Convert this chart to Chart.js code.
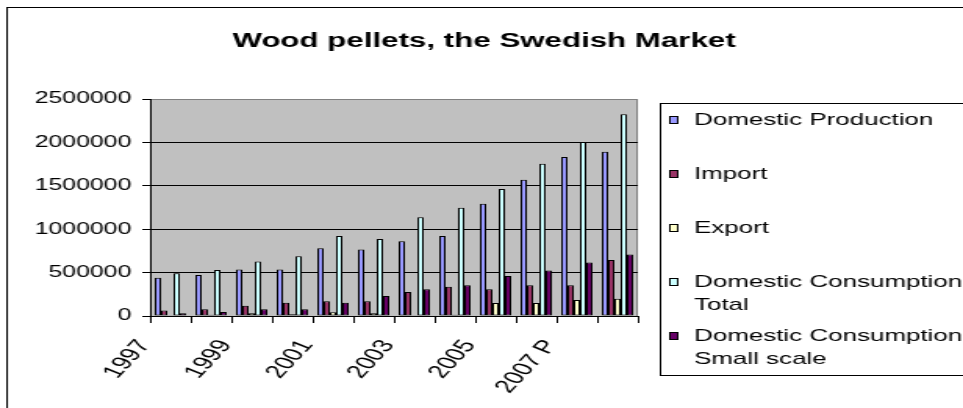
<!DOCTYPE html>
<html>
<head>
<meta charset="utf-8">
<script src="https://cdn.jsdelivr.net/npm/chart.js@4.4.0/dist/chart.umd.min.js"></script>
<style>
  html, body { margin: 0; padding: 0; background: #fff; overflow: hidden; }
  #chartPellets { display: block; }
</style>
</head>
<body>
<canvas id="chartPellets" width="616" height="408" style="width:963px;height:408px"></canvas>
<script>
const chartTitle = 'Wood pellets, the Swedish Market';
const years = ['1997', '1998', '1999', '2000', '2001', '2002', '2003', '2004', '2005', '2006', '2007 P', '2008'];
const tickLabels = ['1997', '', '1999', '', '2001', '', '2003', '', '2005', '', '2007 P', ''];

const domesticProduction = [442000, 473000, 535000, 535000, 781000, 765000, 860000, 923000, 1292000, 1569000, 1831000, 1892000];
const importTonnes = [62000, 77000, 119000, 154000, 169000, 169000, 277000, 338000, 308000, 354000, 354000, 646000];
const exportTonnes = [3000, 15000, 31000, 19000, 42000, 31000, 10000, 15000, 150000, 150000, 185000, 200000];
const consumptionTotal = [492000, 531000, 627000, 688000, 923000, 888000, 1138000, 1246000, 1462000, 1754000, 2004000, 2323000];
const consumptionSmall = [31000, 46000, 77000, 77000, 154000, 231000, 308000, 354000, 462000, 523000, 615000, 708000];

const legendLines = [
    ['Domestic Production'],
    ['Import'],
    ['Export'],
    ['Domestic Consumption', 'Total'],
    ['Domestic Consumption', 'Small scale'],
];
const seriesColors = ['#9999ff', '#993366', '#ffffcc', '#ccffff', '#660066'];

// the reference is stretched sideways, so draw on a narrow canvas and widen it with css.
// 616 wide keeps the plot at 12 x 26px so the bar edges land on whole pixels
const SX = 963 / 616;
const px = (x) => x / SX;
const FONT = '"Liberation Sans", Arial, sans-serif';

const chartFrame = {
    id: 'chartFrame',
    beforeDraw(chart) {
        const { ctx, chartArea: a } = chart;
        ctx.save();
        ctx.fillStyle = '#fff';
        ctx.fillRect(0, 0, chart.width, chart.height);
        ctx.strokeStyle = '#000';
        ctx.lineWidth = 1;
        ctx.strokeRect(Math.round(px(7)) + 0.5, 7.5, 800, 500);
        // plot area
        ctx.fillStyle = '#c0c0c0';
        ctx.fillRect(a.left, a.top, a.right - a.left, a.bottom - a.top);
        ctx.strokeStyle = '#808080';
        ctx.strokeRect(a.left + 0.5, a.top + 0.5, a.right - a.left - 1, a.bottom - a.top);
        // title
        ctx.fillStyle = '#000';
        ctx.font = 'bold 20px ' + FONT;
        ctx.textAlign = 'center';
        ctx.textBaseline = 'alphabetic';
        ctx.fillText(chartTitle, px(484), 47);
        ctx.restore();
    },
    afterDraw(chart) {
        const ctx = chart.ctx;
        ctx.save();
        ctx.strokeStyle = '#000';
        ctx.lineWidth = 1;
        ctx.strokeRect(Math.round(px(660)) + 0.5, 103.5, 400, 272);
        ctx.font = '16.6px ' + FONT;
        ctx.textAlign = 'left';
        ctx.textBaseline = 'middle';
        chart.data.datasets.forEach((ds, i) => {
            const y = 120 + i * 54;
            const sx = Math.round(px(669));
            ctx.fillStyle = ds.backgroundColor;
            ctx.fillRect(sx + 0.5, y - 3.5, 5, 7);
            ctx.strokeStyle = '#000';
            ctx.strokeRect(sx + 0.5, y - 3.5, 5, 7);
            ctx.fillStyle = '#000';
            legendLines[i].forEach((line, j) => ctx.fillText(line, px(694), y + j * 23));
        });
        ctx.restore();
    },
};

const series = [domesticProduction, importTonnes, exportTonnes, consumptionTotal, consumptionSmall];

new Chart(document.getElementById('chartPellets'), {
    type: 'bar',
    data: {
        labels: years,
        datasets: series.map((values, i) => ({
            label: legendLines[i].join(' '),
            data: values,
            backgroundColor: seriesColors[i],
            borderColor: '#000',
            borderWidth: 1,
            borderSkipped: false,
            categoryPercentage: 20 / 26,
            barPercentage: 1.0,
        })),
    },
    options: {
        responsive: false,
        animation: false,
        events: [],
        layout: { padding: { left: 0, top: 99, right: 208, bottom: 0 } },
        plugins: { legend: { display: false }, title: { display: false }, tooltip: { enabled: false } },
        scales: {
            x: {
                offset: true,
                grid: { offset: true, drawOnChartArea: false, color: '#000', tickLength: 7, tickWidth: 1 },
                border: { color: '#000', width: 1 },
                ticks: {
                    autoSkip: false,
                    minRotation: 58,
                    maxRotation: 58,
                    labelOffset: px(-26),
                    padding: 13,
                    color: '#000',
                    font: { family: FONT, size: 18.4 },
                    callback: (v, i) => tickLabels[i],
                },
                afterFit: (scale) => { scale.height = 92; },
            },
            y: {
                min: 0,
                max: 2500000,
                grid: {
                    color: (c) => (c.tick && c.tick.value === 2500000 ? '#808080' : '#000'),
                    tickColor: '#000',
                    tickLength: 5,
                },
                border: { color: '#000', width: 1 },
                ticks: {
                    stepSize: 500000,
                    padding: 7,
                    color: '#000',
                    font: { family: FONT, size: 15.9 },
                    callback: (v) => String(v),
                },
                afterFit: (scale) => { scale.width = 96; },
            },
        },
    },
    plugins: [chartFrame],
});
</script>
</body>
</html>
